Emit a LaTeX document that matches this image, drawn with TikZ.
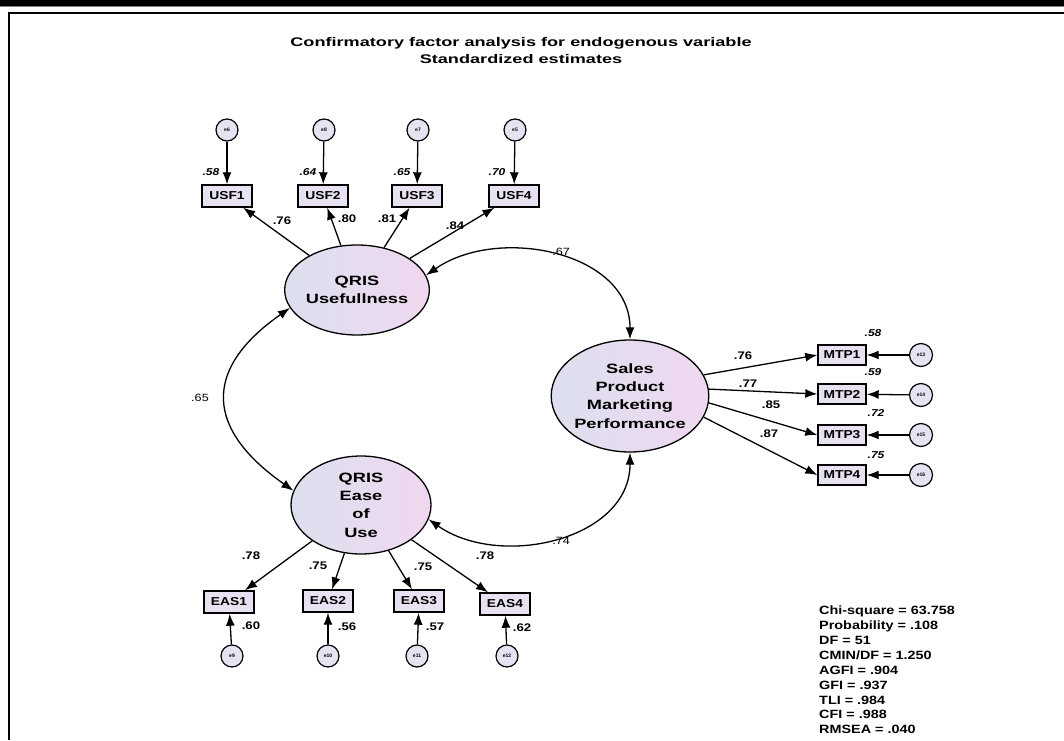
\documentclass[tikz,border=0pt]{standalone}
\usepackage{fontspec}
\setmainfont{Liberation Sans}
\newfontfamily\titlefont[FakeStretch=1.45]{Liberation Sans}
\newfontfamily\latfont[FakeStretch=1.35]{Liberation Sans}
\newfontfamily\obsfont[FakeStretch=1.2]{Liberation Sans}
\newfontfamily\fitfont[FakeStretch=1.2]{Liberation Sans}
\usetikzlibrary{shapes.geometric,arrows.meta}
\definecolor{latl}{HTML}{DCDFEF}
\definecolor{latr}{HTML}{F0D8EF}
\definecolor{boxfill}{HTML}{E8E1F1}
\definecolor{errfill}{HTML}{E6E2F2}
\begin{document}
\begin{tikzpicture}[x=1pt,y=1pt,
  latent/.style={ellipse,draw,line width=1.3pt,left color=latl,right color=latr,align=center,font=\latfont\bfseries\fontsize{13.5}{18.3}\selectfont,inner sep=0pt},
  obs/.style={rectangle,draw,line width=1.4pt,fill=boxfill,minimum width=50pt,minimum height=22pt,inner sep=0pt,font=\obsfont\bfseries\fontsize{11.5}{12}\selectfont},
  err/.style={circle,draw,line width=1.2pt,fill=errfill,minimum size=22pt,inner sep=0pt,font=\bfseries\fontsize{5}{6}\selectfont},
  arr/.style={line width=1.3pt,-{Latex[length=12pt,width=9pt]}},
  darr/.style={line width=1.3pt,{Latex[length=12pt,width=9pt]}-{Latex[length=12pt,width=9pt]}},
  load/.style={font=\obsfont\bfseries\fontsize{11}{12}\selectfont,inner sep=0pt},
  var/.style={font=\obsfont\bfseries\itshape\fontsize{10}{11}\selectfont,inner sep=0pt},
  cov/.style={font=\fitfont\fontsize{10.5}{11}\selectfont,inner sep=0pt}]
\useasboundingbox (0,0) rectangle (1064,740);
% frame
\fill[black] (0,734) rectangle (1064,740);
\draw[gray,line width=1pt] (0,733.5) -- (1064,733.5);
\draw[black,line width=2.5pt] (8,727) -- (1064,727);
\draw[black,line width=2pt] (9,727) -- (9,0);
% title
\node[font=\titlefont\bfseries\fontsize{12.5}{13}\selectfont] (t1) at (521,697) {Confirmatory factor analysis for endogenous variable};
\node[font=\titlefont\bfseries\fontsize{12.5}{13}\selectfont] (t2) at (521,681) {Standardized estimates};
% latent variables
\node[latent,minimum width=132pt,minimum height=90pt] (U) at (357,450) {QRIS\\Usefullness};
\node[latent,minimum width=146pt,minimum height=112pt] (S) at (630,344) {Sales\\Product\\Marketing\\Performance};
\node[latent,minimum width=140pt,minimum height=98pt] (E) at (361,235) {QRIS\\Ease\\of\\Use};
% USF indicators
\node[obs] (USF1) at (227,544) {USF1};
\node[obs] (USF2) at (323,544) {USF2};
\node[obs] (USF3) at (417,544) {USF3};
\node[obs] (USF4) at (514,544) {USF4};
\node[err] (e6) at (227,610) {e6};
\node[err] (e8) at (324,610) {e8};
\node[err] (e7) at (418,610) {e7};
\node[err] (e5) at (515,610) {e5};
\draw[arr] (e6) -- (USF1);
\draw[arr] (e8) -- (USF2);
\draw[arr] (e7) -- (USF3);
\draw[arr] (e5) -- (USF4);
\draw[arr] (U) -- (USF1);
\draw[arr] (U) -- (USF2);
\draw[arr] (U) -- (USF3);
\draw[arr] (U) -- (USF4);
\node[var] (v1) at (211,568) {.58};
\node[var] (v2) at (308,568) {.64};
\node[var] (v3) at (402,568) {.65};
\node[var] (v4) at (497,568) {.70};
\node[load] (l1) at (282,519) {.76};
\node[load] (l2) at (347,521) {.80};
\node[load] (l3) at (387,521) {.81};
\node[load] (l4) at (455,514) {.84};
% MTP indicators
\node[obs,minimum width=48pt,minimum height=20pt] (MTP1) at (842,385) {MTP1};
\node[obs,minimum width=48pt,minimum height=20pt] (MTP2) at (842,346) {MTP2};
\node[obs,minimum width=48pt,minimum height=20pt] (MTP3) at (842,305) {MTP3};
\node[obs,minimum width=48pt,minimum height=20pt] (MTP4) at (842,265) {MTP4};
\node[err,minimum size=23pt] (e13) at (921,385) {e13};
\node[err,minimum size=23pt] (e14) at (921,345) {e14};
\node[err,minimum size=23pt] (e15) at (921,305) {e15};
\node[err,minimum size=23pt] (e16) at (921,265) {e16};
\draw[arr] (e13) -- (MTP1);
\draw[arr] (e14) -- (MTP2);
\draw[arr] (e15) -- (MTP3);
\draw[arr] (e16) -- (MTP4);
\draw[arr] (S.16) -- (MTP1.west);
\draw[arr] (S.5) -- (MTP2.west);
\draw[arr] (S.-5) -- (MTP3.west);
\draw[arr] (S.-16) -- (MTP4.west);
\node[var] (v13) at (873,407) {.58};
\node[var] (v14) at (873,368) {.59};
\node[var] (v15) at (876,327) {.72};
\node[var] (v16) at (876,285) {.75};
\node[load] (l13) at (743,384) {.76};
\node[load] (l14) at (748,356) {.77};
\node[load] (l15) at (771,335) {.85};
\node[load] (l16) at (769,306) {.87};
% EAS indicators
\node[obs] (EAS1) at (229,138) {EAS1};
\node[obs] (EAS2) at (328,139) {EAS2};
\node[obs] (EAS3) at (419,139) {EAS3};
\node[obs] (EAS4) at (505,136) {EAS4};
\node[err] (e9) at (232,84) {e9};
\node[err] (e10) at (328,84) {e10};
\node[err] (e11) at (417,84) {e11};
\node[err] (e12) at (507,84) {e12};
\draw[arr] (e9) -- (EAS1);
\draw[arr] (e10) -- (EAS2);
\draw[arr] (e11) -- (EAS3);
\draw[arr] (e12) -- (EAS4);
\draw[arr] (E) -- (EAS1);
\draw[arr] (E) -- (EAS2);
\draw[arr] (E) -- (EAS3);
\draw[arr] (E) -- (EAS4);
\node[load] (v9) at (251,114) {.60};
\node[load] (v10) at (347,113) {.56};
\node[load] (v11) at (435,113) {.57};
\node[load] (v12) at (522,112) {.62};
\node[load] (l9) at (251,184) {.78};
\node[load] (l10) at (318,174) {.75};
\node[load] (l11) at (423,173) {.75};
\node[load] (l12) at (485,184) {.78};
% covariances
\draw[darr] (U.12) to[out=35,in=90,looseness=1.05] (S.90);
\draw[darr] (U.195) to[out=215,in=145,looseness=1.5] (E.168);
\draw[darr] (E.-12) to[out=-35,in=-90,looseness=1.05] (S.-90);
\node[cov] (c1) at (561,488) {.67};
\node[cov] (c2) at (200,342) {.65};
\node[cov] (c3) at (561,199) {.74};
% fit statistics
\node[anchor=north west,align=left,inner sep=0pt,font=\fitfont\bfseries\fontsize{12}{14.85}\selectfont] (fit) at (819,134) {Chi-square = 63.758\\Probability = .108\\DF = 51\\CMIN/DF = 1.250\\AGFI = .904\\GFI = .937\\TLI = .984\\CFI = .988\\RMSEA = .040};
\end{tikzpicture}
\end{document}
